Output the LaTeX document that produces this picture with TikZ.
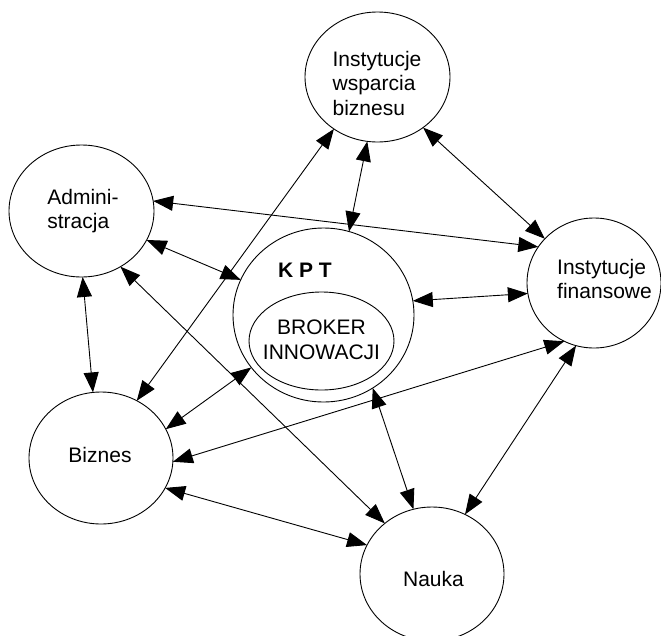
\documentclass[tikz,border=0pt]{standalone}
\usepackage{fontspec}
\setmainfont{Liberation Sans}
\usetikzlibrary{shapes.geometric,arrows.meta}
\begin{document}
\begin{tikzpicture}[x=1pt,y=-1pt,
  blob/.style={draw, ellipse, line width=0.9pt, inner sep=0pt, outer sep=0pt},
  lbl/.style={font=\fontsize{21}{24.5}\selectfont, inner sep=0pt, align=left},
  link/.style={line width=0.9pt, {Triangle[length=20pt,width=15pt]}-{Triangle[length=20pt,width=15pt]}}]
\useasboundingbox (0,0) rectangle (661,635);
\clip (0,0) rectangle (661,635);
% circles
\node[blob, minimum width=145pt, minimum height=130pt] (iwb) at (377.5,77) {};
\node[blob, minimum width=145pt, minimum height=132pt] (admin) at (81.5,211) {};
\node[blob, minimum width=181pt, minimum height=174pt] (kpt) at (323.5,315) {};
\node[blob, minimum width=145pt, minimum height=98pt] (broker) at (321.5,341) {};
\node[blob, minimum width=134pt, minimum height=130pt] (fin) at (594,283) {};
\node[blob, minimum width=144pt, minimum height=132pt] (biz) at (101,458) {};
\node[blob, minimum width=144pt, minimum height=134pt] (nauka) at (432,574) {};
% texts
\node[lbl] (iwbt) at (377,83) {Instytucje\\wsparcia\\biznesu};
\node[lbl] (admint) at (83,211) {Admini-\\stracja};
\node[lbl] (fint) at (604.5,279) {Instytucje\\finansowe};
\node[lbl] (bizt) at (100,455) {Biznes};
\node[lbl] (naukat) at (433.5,579) {Nauka};
\node[lbl, font=\fontsize{21}{24.5}\selectfont\bfseries] (kptt) at (305,270) {K P T};
\node[lbl, align=center] (brokert) at (321.5,340) {BROKER\\INNOWACJI};
% connectors
\draw[link] (admin.8.5) -- (fin.147.7);
\draw[link] (admin.-24.1) -- (kpt.157.8);
\draw[link] (admin.-89) -- (biz.97);
\draw[link] (admin.-55.1) -- (nauka.133.9);
\draw[link] (iwb.-130.8) -- (biz.58.2);
\draw[link] (iwb.-99) -- (kpt.73);
\draw[link] (iwb.-48.3) -- (fin.138.5);
\draw[link] (kpt.9.4) -- (fin.-171.1);
\draw[link] (kpt.-144.2) -- (biz.24.1);
\draw[link] (biz.-3.2) -- (fin.-117.7);
\draw[link] (kpt.-56.6) -- (nauka.106.2);
\draw[link] (fin.-106.9) -- (nauka.61.6);
\draw[link] (biz.-25.5) -- (nauka.156.6);
\end{tikzpicture}
\end{document}
